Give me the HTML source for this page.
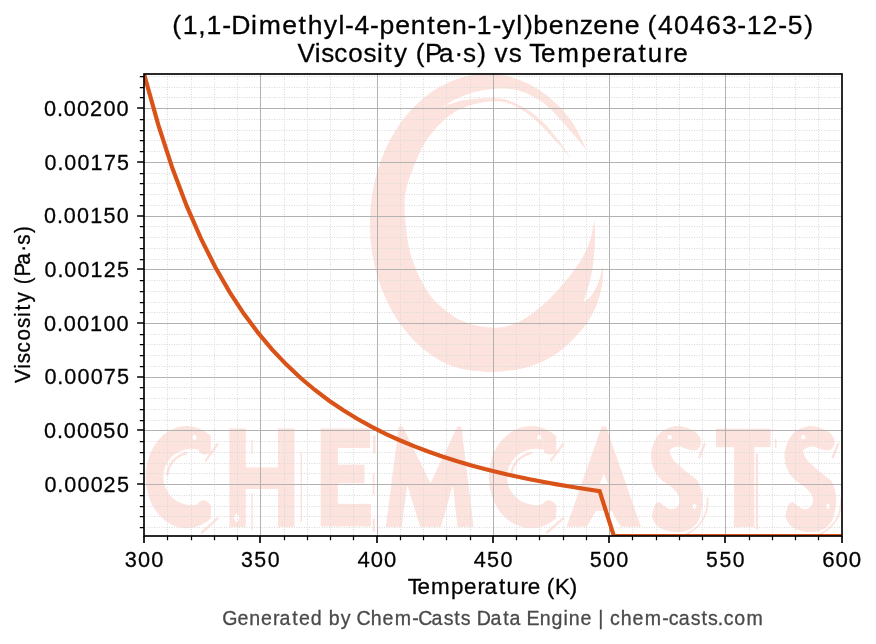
<!DOCTYPE html>
<html><head><meta charset="utf-8"><title>Viscosity vs Temperature</title>
<style>html,body{margin:0;padding:0;background:#fff}svg{display:block}text{font-family:"Liberation Sans",sans-serif}</style></head><body>
<svg width="876" height="644" viewBox="0 0 876 644">
<rect width="876" height="644" fill="#fff"/>
<defs><clipPath id="ax"><rect x="144" y="74" width="698" height="462"/></clipPath></defs>
<g clip-path="url(#ax)" fill="#fde3dd">
<path d="M586.9 151.4 L585.5 148.0 L584.1 144.6 L582.6 141.3 L581.0 138.0 L579.4 134.7 L577.7 131.5 L575.9 128.3 L574.0 125.2 L572.1 122.2 L570.1 119.2 L568.0 116.4 L565.8 113.7 L563.5 111.1 L561.2 108.6 L558.8 106.1 L556.4 103.7 L553.9 101.4 L551.4 99.2 L548.8 97.0 L546.2 95.0 L543.5 93.0 L540.9 91.1 L538.1 89.3 L535.3 87.6 L532.5 86.0 L529.7 84.5 L526.8 83.1 L523.9 81.8 L521.0 80.5 L518.1 79.4 L515.1 78.4 L512.1 77.4 L509.1 76.6 L506.1 75.8 L503.0 75.2 L499.9 74.7 L496.9 74.2 L493.8 73.9 L490.7 73.7 L487.6 73.5 L484.5 73.6 L481.4 73.8 L478.4 74.1 L475.3 74.5 L472.2 75.0 L469.2 75.6 L466.1 76.3 L463.1 77.1 L460.1 78.0 L457.1 79.0 L454.2 80.1 L451.2 81.3 L448.3 82.6 L445.4 83.9 L442.6 85.4 L439.7 86.9 L437.0 88.6 L434.2 90.3 L431.5 92.1 L428.8 94.0 L426.1 96.0 L423.5 98.1 L421.0 100.3 L418.5 102.5 L416.0 104.9 L413.6 107.3 L411.2 109.8 L408.9 112.4 L406.6 115.0 L404.4 117.7 L402.3 120.5 L400.2 123.4 L398.2 126.4 L396.2 129.4 L394.3 132.4 L392.5 135.6 L390.7 138.8 L389.0 142.0 L387.3 145.3 L385.8 148.7 L384.3 152.1 L382.8 155.5 L381.5 159.0 L380.2 162.6 L379.0 166.2 L377.8 169.8 L376.8 173.5 L375.8 177.2 L374.9 180.9 L374.0 184.6 L373.3 188.4 L372.6 192.2 L372.0 196.1 L371.5 199.9 L371.0 203.8 L370.7 207.6 L370.4 211.5 L370.2 215.4 L370.0 219.3 L370.0 223.2 L370.0 227.1 L370.1 231.0 L370.3 234.9 L370.6 238.8 L370.9 242.7 L371.3 246.5 L371.8 250.4 L372.4 254.2 L373.1 258.0 L373.8 261.8 L374.6 265.6 L375.5 269.3 L376.5 273.0 L377.6 276.7 L378.7 280.3 L379.9 283.9 L381.1 287.4 L382.5 290.9 L383.9 294.4 L385.4 297.8 L386.9 301.2 L388.5 304.5 L390.2 307.8 L392.0 310.9 L393.8 314.1 L395.7 317.2 L397.6 320.2 L399.6 323.1 L401.7 326.0 L403.8 328.8 L406.0 331.5 L408.3 334.2 L410.5 336.8 L412.9 339.3 L415.3 341.7 L417.7 344.1 L420.2 346.4 L422.8 348.5 L425.3 350.6 L428.0 352.6 L430.6 354.6 L433.3 356.4 L436.1 358.1 L438.9 359.8 L441.7 361.4 L444.5 362.8 L447.4 364.2 L450.3 365.3 L453.2 366.4 L456.2 367.3 L459.2 368.2 L462.2 368.9 L465.2 369.5 L468.2 370.1 L471.2 370.5 L474.3 370.9 L477.3 371.1 L480.3 371.3 L483.4 371.6 L486.4 371.9 L489.4 372.0 L492.5 372.0 L495.5 371.9 L498.6 371.8 L501.6 371.5 L504.7 371.1 L507.7 370.6 L510.8 370.4 L513.9 370.0 L517.0 369.5 L520.1 368.9 L523.2 368.3 L526.2 367.5 L529.3 366.6 L532.4 365.6 L535.4 364.5 L538.5 363.3 L541.5 362.0 L544.5 360.6 L547.5 359.1 L550.4 357.4 L553.3 355.6 L556.2 353.7 L559.1 351.7 L561.9 349.6 L564.6 347.4 L567.3 345.0 L569.9 342.5 L572.5 339.9 L575.0 337.3 L577.5 334.5 L580.0 331.7 L582.4 328.9 L584.8 325.9 L587.1 322.9 L589.3 319.7 L591.2 316.2 L593.0 312.7 L594.8 309.1 L596.5 305.5 L597.9 301.7 L599.1 297.7 L600.2 293.7 L601.1 289.6 L602.0 285.6 L602.6 281.4 L602.8 277.1 L603.0 272.9 L603.1 268.6 L603.0 264.8 L603.0 264.8 L602.3 267.5 L601.7 270.3 L601.1 273.0 L600.4 275.8 L599.7 278.4 L598.8 281.0 L597.8 283.5 L596.7 286.1 L595.6 288.6 L594.3 290.9 L593.1 293.1 L591.8 295.0 L590.5 296.6 L589.1 297.9 L587.7 298.9 L586.3 299.9 L584.8 300.9 L583.4 302.0 L583.4 302.0 L584.1 299.9 L584.8 298.0 L585.5 296.0 L586.2 293.9 L586.9 291.7 L587.6 289.4 L588.3 286.9 L589.1 284.1 L589.8 281.3 L590.5 278.4 L591.2 275.5 L591.8 272.7 L592.3 269.9 L592.7 267.1 L593.1 264.3 L593.4 261.5 L593.7 258.7 L594.0 255.9 L594.3 253.1 L594.5 250.4 L594.7 247.7 L594.9 244.9 L595.0 242.1 L595.1 239.1 L595.1 236.0 L595.1 232.8 L595.0 229.5 L594.8 226.2 L594.7 222.9 L594.6 219.6 L594.6 219.6 L593.9 222.9 L593.3 226.2 L592.7 229.5 L592.0 232.8 L591.3 236.0 L590.4 239.1 L589.4 242.1 L588.4 244.9 L587.3 247.7 L586.1 250.4 L584.8 253.1 L583.4 255.9 L581.8 258.7 L580.1 261.5 L578.2 264.3 L576.3 267.1 L574.3 269.9 L572.2 272.7 L570.1 275.5 L567.9 278.3 L565.6 281.0 L563.2 283.8 L560.8 286.6 L558.3 289.4 L555.7 292.2 L553.0 295.1 L550.3 298.0 L547.4 300.8 L544.5 303.6 L541.5 306.2 L538.4 308.8 L535.2 311.3 L531.9 313.8 L528.5 316.2 L525.2 318.3 L521.9 320.2 L518.7 321.9 L515.5 323.3 L512.3 324.6 L509.1 325.7 L505.8 326.6 L502.4 327.2 L498.8 327.6 L495.1 327.7 L491.3 327.6 L487.5 327.3 L483.8 326.8 L480.2 326.3 L476.8 325.6 L473.4 324.8 L470.1 323.9 L466.8 322.8 L463.7 321.6 L460.6 320.2 L457.6 318.7 L454.7 316.9 L451.8 315.1 L449.1 313.1 L446.4 311.1 L443.8 309.0 L441.3 306.9 L438.9 304.7 L436.5 302.5 L434.2 300.2 L432.0 297.7 L429.9 295.0 L427.8 292.1 L425.9 289.0 L424.0 285.8 L422.1 282.4 L420.4 279.0 L418.7 275.5 L417.1 272.0 L415.5 268.3 L414.1 264.6 L412.7 260.9 L411.4 257.0 L410.3 253.1 L409.3 249.1 L408.5 245.0 L407.8 240.9 L407.1 236.7 L406.6 232.4 L406.1 228.0 L405.6 223.4 L405.2 218.7 L404.8 213.8 L404.6 209.0 L404.5 204.4 L404.7 200.0 L405.1 196.0 L405.6 192.4 L406.4 188.9 L407.2 185.4 L408.3 181.8 L409.5 178.0 L410.9 173.8 L412.7 169.3 L414.5 164.6 L416.5 160.1 L418.3 155.9 L420.0 152.2 L421.5 149.1 L422.8 146.6 L424.0 144.3 L425.2 142.2 L426.6 140.1 L428.2 137.8 L430.0 135.4 L431.9 132.9 L434.0 130.4 L436.1 128.0 L438.3 125.6 L440.5 123.4 L442.8 121.3 L445.1 119.3 L447.4 117.3 L449.9 115.4 L452.4 113.7 L454.9 112.1 L457.5 110.6 L460.2 109.2 L463.0 108.0 L465.8 106.8 L468.6 105.8 L471.4 104.9 L474.2 104.1 L476.9 103.4 L479.7 102.9 L482.5 102.5 L485.2 102.1 L487.8 101.8 L490.4 101.6 L492.9 101.5 L495.4 101.4 L497.8 101.5 L500.1 101.6 L502.2 101.8 L504.1 102.1 L505.8 102.4 L507.4 102.8 L508.9 103.4 L510.6 104.1 L512.5 104.9 L514.7 105.9 L517.0 107.1 L519.4 108.4 L521.9 109.9 L524.4 111.4 L526.8 113.1 L529.2 114.9 L531.6 116.8 L534.0 118.8 L536.4 121.0 L538.8 123.2 L541.2 125.5 L543.6 127.9 L546.0 130.3 L548.3 132.9 L550.7 135.5 L553.1 138.2 L555.6 140.9 L558.1 143.7 L560.7 146.6 L563.2 149.5 L565.8 152.5 L568.4 155.5 L571.0 158.4 L571.0 158.4 L569.2 155.7 L567.3 152.9 L565.5 150.2 L563.7 147.5 L561.8 144.7 L559.7 141.9 L557.5 139.0 L555.1 135.9 L552.7 132.9 L550.2 129.9 L547.7 127.0 L545.3 124.4 L542.9 122.0 L540.5 119.8 L538.1 117.7 L535.8 115.7 L533.4 113.9 L531.0 112.1 L528.6 110.5 L526.2 108.9 L523.8 107.5 L521.4 106.3 L519.0 105.0 L516.6 103.9 L514.3 102.8 L512.0 101.8 L509.8 100.9 L507.5 100.0 L505.0 99.3 L502.2 98.8 L499.1 98.4 L495.8 98.2 L492.3 98.1 L488.7 98.2 L485.1 98.3 L481.6 98.4 L478.2 98.6 L474.7 98.9 L471.3 99.2 L467.9 99.6 L464.5 100.1 L461.1 100.8 L457.8 101.6 L454.5 102.6 L451.3 103.7 L448.1 104.8 L444.8 105.9 L441.6 107.0 L441.6 107.0 L444.8 105.2 L448.1 103.4 L451.3 101.6 L454.5 99.8 L457.8 98.2 L461.1 96.7 L464.5 95.4 L467.9 94.2 L471.3 93.1 L474.7 92.1 L478.2 91.2 L481.6 90.5 L485.1 89.9 L488.6 89.4 L492.2 89.0 L495.6 88.7 L499.0 88.6 L502.2 88.5 L505.2 88.5 L508.0 88.7 L510.7 88.9 L513.3 89.3 L515.9 89.8 L518.6 90.5 L521.4 91.4 L524.2 92.4 L527.0 93.6 L529.8 94.9 L532.5 96.3 L535.1 97.7 L537.6 99.2 L540.0 100.7 L542.4 102.3 L544.7 104.1 L547.0 106.0 L549.4 108.0 L551.8 110.3 L554.3 112.8 L556.7 115.4 L559.1 118.2 L561.5 120.8 L563.8 123.4 L566.0 125.9 L568.2 128.4 L570.3 130.8 L572.3 133.2 L574.3 135.5 L576.2 137.8 L578.0 140.0 L579.8 142.1 L581.4 144.1 L583.1 146.1 L584.7 148.1 L586.4 150.1Z"/>
<ellipse cx="186.6" cy="477.1" rx="41.0" ry="51.1" fill="#fde3dd"/>
<ellipse cx="191.6" cy="477.0" rx="28.3" ry="28.2" fill="#fff"/>
<path d="M191.6 448.9 L198.0 451.5 L205.0 455.2 L222.0 449.0 L222.0 507.0 L211.0 505.0 L205.0 501.5 L199.6 500.3 L191.6 505.2Z" fill="#fff"/>
<rect x="210.8" y="420.0" width="21.2" height="115.0" fill="#fff"/>
<ellipse cx="203.6" cy="509.5" rx="7.6" ry="9.3" fill="#fde3dd"/>
<ellipse cx="204.3" cy="446.3" rx="6.6" ry="8.4" fill="#fde3dd"/>
<path d="M167.3 474.4 L167.6 472.8 L167.9 471.1 L168.4 469.5 L169.0 467.9 L169.7 466.3 L170.5 464.8 L171.4 463.4 L172.4 462.0 L173.5 460.7 L174.7 459.4 L175.9 458.3 L177.3 457.3 L178.7 456.3 L180.1 455.5 L181.7 454.7 L183.3 454.1 L184.9 453.5 L186.5 453.1" fill="none" stroke="#fde3dd" stroke-width="2.6" stroke-linecap="round"/>
<ellipse cx="194.5" cy="437.4" rx="2.0" ry="2.6" fill="#fff"/>
<path d="M205.9 460.4 L217.5 444.2 M202.0 532.5 L217.5 518.4" fill="none" stroke="#fde3dd" stroke-width="2.4" stroke-linecap="round"/>
<rect x="229.4" y="428.4" width="16.4" height="98.6"/>
<rect x="278.0" y="428.4" width="16.5" height="98.6"/>
<rect x="245.0" y="467.4" width="34.0" height="21.6"/>
<rect x="251.3" y="439.7" width="1.5" height="14.3"/>
<rect x="251.3" y="493.0" width="1.5" height="37.0"/>
<rect x="300.5" y="452.0" width="1.5" height="70.0"/>
<path d="M236.6 512.5 L239.8 517.7 L236.6 523.0 L233.6 517.7Z" fill="#fff"/>
<rect x="320.7" y="428.4" width="17.1" height="98.1"/>
<rect x="337.0" y="428.4" width="33.0" height="19.6"/>
<rect x="337.0" y="464.7" width="27.5" height="18.6"/>
<rect x="337.0" y="503.8" width="34.0" height="22.7"/>
<rect x="373.0" y="435.4" width="2.6" height="18.1"/>
<rect x="372.6" y="474.0" width="2.0" height="20.5"/>
<rect x="372.6" y="518.7" width="2.4" height="12.8"/>
<path d="M385.8 527.0 L398.7 426.5 L402.7 426.5 L430.5 483.3 L457.4 426.5 L461.4 426.5 L473.6 527.0 L457.5 527.0 L452.9 485.2 L440.8 527.0 L420.3 527.0 L407.3 485.2 L401.7 527.0Z"/>
<ellipse cx="531.1" cy="477.1" rx="42.4" ry="51.1" fill="#fde3dd"/>
<ellipse cx="536.3" cy="477.0" rx="29.3" ry="28.2" fill="#fff"/>
<path d="M536.3 448.9 L542.9 451.5 L550.2 455.2 L567.8 449.0 L567.8 507.0 L556.4 505.0 L550.2 501.5 L544.6 500.3 L536.3 505.2Z" fill="#fff"/>
<rect x="556.2" y="420.0" width="21.9" height="115.0" fill="#fff"/>
<ellipse cx="548.7" cy="509.5" rx="7.9" ry="9.3" fill="#fde3dd"/>
<ellipse cx="549.5" cy="446.3" rx="6.8" ry="8.4" fill="#fde3dd"/>
<path d="M511.2 474.4 L511.4 472.8 L511.8 471.1 L512.3 469.5 L512.9 467.9 L513.6 466.3 L514.4 464.8 L515.4 463.4 L516.4 462.0 L517.5 460.7 L518.8 459.4 L520.1 458.3 L521.5 457.3 L522.9 456.3 L524.5 455.5 L526.0 454.7 L527.7 454.1 L529.3 453.5 L531.1 453.1" fill="none" stroke="#fde3dd" stroke-width="2.6" stroke-linecap="round"/>
<ellipse cx="539.3" cy="437.4" rx="2.0" ry="2.6" fill="#fff"/>
<path d="M551.1 460.4 L563.1 444.2 M547.1 532.5 L563.1 518.4" fill="none" stroke="#fde3dd" stroke-width="2.4" stroke-linecap="round"/>
<path d="M566.5 526.8 L601.6 426.5 L606.0 426.5 L641.0 526.8Z"/>
<path d="M586.0 528.0 L596.0 511.0 L611.5 511.0 L621.5 528.0Z" fill="#fff"/>
<path d="M603.8 474.0 L608.0 484.0 L599.6 484.0Z" fill="#fff"/>
<path d="M675.8 426.1 L673.3 426.5 L670.7 427.2 L668.1 428.2 L665.7 429.2 L663.6 430.3 L661.9 431.4 L660.5 432.6 L659.3 434.0 L658.2 435.3 L657.1 436.8 L656.1 438.3 L655.1 440.0 L654.3 441.7 L653.5 443.4 L652.9 445.2 L652.3 447.0 L651.9 448.9 L651.5 450.7 L651.2 452.6 L651.1 454.5 L651.1 456.4 L651.2 458.3 L651.3 460.1 L651.6 462.0 L652.0 463.8 L652.5 465.6 L653.0 467.3 L653.7 469.0 L654.4 470.6 L655.3 472.2 L656.2 473.7 L657.2 475.2 L658.4 476.7 L659.6 478.1 L661.0 479.5 L662.7 480.9 L664.6 482.2 L666.6 483.5 L668.5 484.8 L670.2 486.1 L671.7 487.4 L673.0 488.6 L674.2 489.8 L675.3 491.0 L676.3 492.2 L677.2 493.4 L677.9 494.6 L678.5 495.8 L679.0 497.0 L679.3 498.2 L679.5 499.4 L679.5 500.7 L679.4 502.0 L679.1 503.2 L678.8 504.3 L678.3 505.3 L677.7 506.2 L677.0 507.1 L676.2 507.8 L675.3 508.3 L674.2 508.7 L673.0 508.9 L671.8 509.1 L670.5 509.0 L669.2 508.8 L668.0 508.3 L666.7 507.7 L665.5 506.9 L664.3 506.0 L663.2 505.3 L662.3 504.6 L661.4 503.8 L660.6 503.1 L659.9 502.6 L659.1 502.3 L658.3 502.3 L657.6 502.4 L656.8 502.8 L656.1 503.3 L655.5 504.0 L654.9 505.0 L654.4 506.2 L653.9 507.6 L653.5 509.0 L653.1 510.3 L652.7 511.5 L652.4 512.7 L652.1 513.9 L652.0 515.1 L652.1 516.4 L652.4 517.8 L652.9 519.3 L653.5 520.8 L654.2 522.2 L655.1 523.5 L656.1 524.7 L657.1 525.7 L658.3 526.7 L659.7 527.7 L661.1 528.5 L662.7 529.3 L664.5 530.0 L666.4 530.6 L668.3 531.1 L670.2 531.5 L672.0 531.8 L673.8 532.0 L675.6 532.1 L677.4 532.1 L679.3 532.0 L681.3 531.8 L683.4 531.4 L685.5 531.0 L687.5 530.3 L689.4 529.5 L691.2 528.4 L693.0 527.1 L694.7 525.7 L696.2 524.1 L697.5 522.5 L698.5 520.8 L699.3 518.9 L700.0 516.9 L700.5 515.0 L701.0 513.0 L701.5 511.1 L701.8 509.2 L702.1 507.2 L702.4 505.3 L702.5 503.3 L702.6 501.3 L702.6 499.3 L702.5 497.2 L702.3 495.1 L702.0 493.0 L701.5 490.7 L700.8 488.3 L700.0 485.9 L699.2 483.8 L698.5 482.1 L697.9 481.0 L697.4 480.3 L696.9 479.9 L696.3 479.5 L695.3 478.7 L693.9 477.6 L692.3 476.3 L690.4 474.9 L688.6 473.5 L686.9 472.2 L685.3 470.9 L683.8 469.6 L682.4 468.3 L680.9 467.0 L679.5 465.7 L678.1 464.4 L676.6 463.1 L675.3 461.9 L674.0 460.5 L672.9 459.1 L671.9 457.5 L671.0 455.7 L670.3 453.8 L669.8 452.2 L669.7 450.8 L670.0 449.8 L670.8 449.0 L671.8 448.4 L672.9 447.9 L674.0 447.5 L675.2 447.1 L676.5 446.9 L677.9 446.7 L679.3 446.6 L680.4 446.6 L681.3 446.7 L682.0 447.0 L682.6 447.3 L683.3 447.7 L684.1 448.0 L685.1 448.4 L686.2 448.8 L687.4 449.2 L688.5 449.5 L689.7 449.8 L690.9 450.0 L692.0 450.2 L693.2 450.4 L694.3 450.4 L695.3 450.3 L696.2 450.1 L697.0 449.7 L697.7 449.2 L698.4 448.7 L699.0 448.0 L699.5 447.2 L700.0 446.3 L700.4 445.4 L700.7 444.3 L700.9 443.3 L701.0 442.2 L700.9 441.1 L700.8 440.0 L700.5 438.8 L700.0 437.7 L699.4 436.6 L698.6 435.4 L697.6 434.2 L696.5 433.1 L695.3 432.1 L693.9 431.1 L692.3 430.2 L690.6 429.3 L688.8 428.6 L686.9 427.9 L684.9 427.3 L682.7 426.7 L680.4 426.3 L678.1 426.0Z"/>
<rect x="667.8" y="435.3" width="3.8" height="3.8" fill="#fff"/>
<path d="M694.5 503.2 L697.0 506.3 L694.5 509.4 L692.0 506.3Z" fill="#fff"/>
<path d="M704.6 444.2 L699.3 457.3" fill="none" stroke="#fde3dd" stroke-width="2.4" stroke-linecap="round"/>
<path d="M707.6 497.5 Q709.0 523 686.0 534.5" fill="none" stroke="#fde3dd" stroke-width="1.8"/>
<rect x="716.0" y="428.6" width="54.6" height="18.6"/>
<rect x="733.9" y="446.0" width="20.4" height="81.1"/>
<rect x="755.7" y="453.5" width="2.4" height="75.5"/>
<rect x="774.9" y="438.6" width="1.6" height="9.4"/>
<path d="M809.3 426.1 L806.8 426.5 L804.2 427.2 L801.6 428.2 L799.2 429.2 L797.1 430.3 L795.4 431.4 L794.0 432.6 L792.8 434.0 L791.7 435.3 L790.6 436.8 L789.6 438.3 L788.6 440.0 L787.8 441.7 L787.0 443.4 L786.4 445.2 L785.8 447.0 L785.4 448.9 L785.0 450.7 L784.7 452.6 L784.6 454.5 L784.6 456.4 L784.7 458.3 L784.8 460.1 L785.1 462.0 L785.5 463.8 L786.0 465.6 L786.5 467.3 L787.2 469.0 L787.9 470.6 L788.8 472.2 L789.7 473.7 L790.7 475.2 L791.9 476.7 L793.1 478.1 L794.5 479.5 L796.2 480.9 L798.1 482.2 L800.1 483.5 L802.0 484.8 L803.7 486.1 L805.2 487.4 L806.5 488.6 L807.7 489.8 L808.8 491.0 L809.8 492.2 L810.7 493.4 L811.4 494.6 L812.0 495.8 L812.5 497.0 L812.8 498.2 L813.0 499.4 L813.0 500.7 L812.9 502.0 L812.6 503.2 L812.3 504.3 L811.8 505.3 L811.2 506.2 L810.5 507.1 L809.7 507.8 L808.8 508.3 L807.7 508.7 L806.5 508.9 L805.3 509.1 L804.0 509.0 L802.7 508.8 L801.5 508.3 L800.2 507.7 L799.0 506.9 L797.8 506.0 L796.7 505.3 L795.8 504.6 L794.9 503.8 L794.1 503.1 L793.4 502.6 L792.6 502.3 L791.8 502.3 L791.1 502.4 L790.3 502.8 L789.6 503.3 L789.0 504.0 L788.4 505.0 L787.9 506.2 L787.4 507.6 L787.0 509.0 L786.6 510.3 L786.2 511.5 L785.9 512.7 L785.6 513.9 L785.5 515.1 L785.6 516.4 L785.9 517.8 L786.4 519.3 L787.0 520.8 L787.7 522.2 L788.6 523.5 L789.6 524.7 L790.6 525.7 L791.8 526.7 L793.2 527.7 L794.6 528.5 L796.2 529.3 L798.0 530.0 L799.9 530.6 L801.8 531.1 L803.7 531.5 L805.5 531.8 L807.3 532.0 L809.1 532.1 L810.9 532.1 L812.8 532.0 L814.8 531.8 L816.9 531.4 L819.0 531.0 L821.0 530.3 L822.9 529.5 L824.7 528.4 L826.5 527.1 L828.2 525.7 L829.7 524.1 L831.0 522.5 L832.0 520.8 L832.8 518.9 L833.5 516.9 L834.0 515.0 L834.5 513.0 L835.0 511.1 L835.3 509.2 L835.6 507.2 L835.9 505.3 L836.0 503.3 L836.1 501.3 L836.1 499.3 L836.0 497.2 L835.8 495.1 L835.5 493.0 L835.0 490.7 L834.3 488.3 L833.5 485.9 L832.7 483.8 L832.0 482.1 L831.4 481.0 L830.9 480.3 L830.4 479.9 L829.8 479.5 L828.8 478.7 L827.4 477.6 L825.8 476.3 L823.9 474.9 L822.1 473.5 L820.4 472.2 L818.8 470.9 L817.3 469.6 L815.9 468.3 L814.4 467.0 L813.0 465.7 L811.6 464.4 L810.1 463.1 L808.8 461.9 L807.5 460.5 L806.4 459.1 L805.4 457.5 L804.5 455.7 L803.8 453.8 L803.3 452.2 L803.2 450.8 L803.5 449.8 L804.3 449.0 L805.3 448.4 L806.4 447.9 L807.5 447.5 L808.7 447.1 L810.0 446.9 L811.4 446.7 L812.8 446.6 L813.9 446.6 L814.8 446.7 L815.5 447.0 L816.1 447.3 L816.8 447.7 L817.6 448.0 L818.6 448.4 L819.7 448.8 L820.9 449.2 L822.0 449.5 L823.2 449.8 L824.4 450.0 L825.5 450.2 L826.7 450.4 L827.8 450.4 L828.8 450.3 L829.7 450.1 L830.5 449.7 L831.2 449.2 L831.9 448.7 L832.5 448.0 L833.0 447.2 L833.5 446.3 L833.9 445.4 L834.2 444.3 L834.4 443.3 L834.5 442.2 L834.4 441.1 L834.3 440.0 L834.0 438.8 L833.5 437.7 L832.9 436.6 L832.1 435.4 L831.1 434.2 L830.0 433.1 L828.8 432.1 L827.4 431.1 L825.8 430.2 L824.1 429.3 L822.3 428.6 L820.4 427.9 L818.4 427.3 L816.2 426.7 L813.9 426.3 L811.6 426.0Z"/>
<rect x="801.3" y="435.3" width="3.8" height="3.8" fill="#fff"/>
<path d="M828.0 503.2 L830.5 506.3 L828.0 509.4 L825.5 506.3Z" fill="#fff"/>
<path d="M838.1 444.2 L832.8 457.3" fill="none" stroke="#fde3dd" stroke-width="2.4" stroke-linecap="round"/>
<path d="M841.1 497.5 Q842.5 523 819.5 534.5" fill="none" stroke="#fde3dd" stroke-width="1.8"/>
</g>
<path d="M167.5 74 V536 M191.5 74 V536 M214.5 74 V536 M237.5 74 V536 M284.5 74 V536 M307.5 74 V536 M330.5 74 V536 M353.5 74 V536 M400.5 74 V536 M423.5 74 V536 M446.5 74 V536 M470.5 74 V536 M516.5 74 V536 M539.5 74 V536 M563.5 74 V536 M586.5 74 V536 M632.5 74 V536 M656.5 74 V536 M679.5 74 V536 M702.5 74 V536 M749.5 74 V536 M772.5 74 V536 M795.5 74 V536 M818.5 74 V536 M144 527.5 H842 M144 516.5 H842 M144 506.5 H842 M144 495.5 H842 M144 473.5 H842 M144 463.5 H842 M144 452.5 H842 M144 441.5 H842 M144 420.5 H842 M144 409.5 H842 M144 398.5 H842 M144 387.5 H842 M144 366.5 H842 M144 355.5 H842 M144 344.5 H842 M144 334.5 H842 M144 312.5 H842 M144 302.5 H842 M144 291.5 H842 M144 280.5 H842 M144 259.5 H842 M144 248.5 H842 M144 237.5 H842 M144 226.5 H842 M144 205.5 H842 M144 194.5 H842 M144 183.5 H842 M144 173.5 H842 M144 151.5 H842 M144 140.5 H842 M144 130.5 H842 M144 119.5 H842 M144 97.5 H842 M144 87.5 H842 M144 76.5 H842" stroke="#d9d9d9" stroke-width="1" stroke-dasharray="1 1.5" fill="none"/>
<path d="M260.5 74 V536 M377.5 74 V536 M493.5 74 V536 M609.5 74 V536 M725.5 74 V536 M144 484.5 H842 M144 430.5 H842 M144 377.5 H842 M144 323.5 H842 M144 269.5 H842 M144 216.5 H842 M144 162.5 H842 M144 108.5 H842" stroke="#b2b2b2" stroke-width="1" fill="none"/>
<path clip-path="url(#ax)" d="M144.05 74.00 L158.29 124.90 L172.52 168.53 L186.76 206.13 L201.00 238.69 L215.23 267.03 L229.47 291.79 L243.71 313.52 L257.94 332.66 L272.18 349.60 L286.42 364.63 L300.65 378.02 L314.89 389.98 L329.12 400.70 L343.36 410.35 L357.60 419.04 L371.83 426.90 L386.07 434.03 L400.31 440.50 L414.54 446.40 L428.78 451.79 L443.02 456.71 L457.25 461.23 L471.49 465.38 L485.73 469.20 L499.96 472.73 L514.20 475.99 L528.44 479.00 L542.67 481.80 L556.91 484.39 L571.15 486.81 L585.38 489.05 L599.62 491.15 L613.86 536.00 L628.09 536.00 L642.33 536.00 L656.57 536.00 L670.80 536.00 L685.04 536.00 L699.27 536.00 L713.51 536.00 L727.75 536.00 L741.98 536.00 L756.22 536.00 L770.46 536.00 L784.69 536.00 L798.93 536.00 L813.17 536.00 L827.40 536.00 L841.64 536.00" fill="none" stroke="#d95319" stroke-width="4.17" stroke-linejoin="miter" stroke-linecap="square"/>
<rect x="144" y="74" width="698" height="462" fill="none" stroke="#000" stroke-width="1.67"/>
<path d="M144 536 v6.9 M260 536 v6.9 M377 536 v6.9 M493 536 v6.9 M609 536 v6.9 M725 536 v6.9 M842 536 v6.9 M144 484 h-6.9 M144 430 h-6.9 M144 377 h-6.9 M144 323 h-6.9 M144 269 h-6.9 M144 216 h-6.9 M144 162 h-6.9 M144 108 h-6.9" stroke="#000" stroke-width="1.67" fill="none"/>
<path d="M167.5 536 v4.2 M191.5 536 v4.2 M214.5 536 v4.2 M237.5 536 v4.2 M284.5 536 v4.2 M307.5 536 v4.2 M330.5 536 v4.2 M353.5 536 v4.2 M400.5 536 v4.2 M423.5 536 v4.2 M446.5 536 v4.2 M470.5 536 v4.2 M516.5 536 v4.2 M539.5 536 v4.2 M563.5 536 v4.2 M586.5 536 v4.2 M632.5 536 v4.2 M656.5 536 v4.2 M679.5 536 v4.2 M702.5 536 v4.2 M749.5 536 v4.2 M772.5 536 v4.2 M795.5 536 v4.2 M818.5 536 v4.2 M144 527.5 h-4.2 M144 516.5 h-4.2 M144 506.5 h-4.2 M144 495.5 h-4.2 M144 473.5 h-4.2 M144 463.5 h-4.2 M144 452.5 h-4.2 M144 441.5 h-4.2 M144 420.5 h-4.2 M144 409.5 h-4.2 M144 398.5 h-4.2 M144 387.5 h-4.2 M144 366.5 h-4.2 M144 355.5 h-4.2 M144 344.5 h-4.2 M144 334.5 h-4.2 M144 312.5 h-4.2 M144 302.5 h-4.2 M144 291.5 h-4.2 M144 280.5 h-4.2 M144 259.5 h-4.2 M144 248.5 h-4.2 M144 237.5 h-4.2 M144 226.5 h-4.2 M144 205.5 h-4.2 M144 194.5 h-4.2 M144 183.5 h-4.2 M144 173.5 h-4.2 M144 151.5 h-4.2 M144 140.5 h-4.2 M144 130.5 h-4.2 M144 119.5 h-4.2 M144 97.5 h-4.2 M144 87.5 h-4.2 M144 76.5 h-4.2" stroke="#000" stroke-width="1.25" fill="none"/>
<g opacity="0.999">
<text transform="translate(125.69 567.00) scale(0.9544 1)" x="-1.01 12.89 26.82" y="0" font-size="22.78" fill="#000" stroke="#000" stroke-width="0.30">300</text>
<text transform="translate(241.96 567.00) scale(0.9363 1)" x="-0.91 13.18 27.46" y="0" font-size="22.78" fill="#000" stroke="#000" stroke-width="0.30">350</text>
<text transform="translate(357.94 567.00) scale(0.9671 1)" x="-0.52 13.23 26.98" y="0" font-size="22.78" fill="#000" stroke="#000" stroke-width="0.30">400</text>
<text transform="translate(474.20 567.00) scale(0.9494 1)" x="-0.42 13.51 27.60" y="0" font-size="22.78" fill="#000" stroke="#000" stroke-width="0.30">450</text>
<text transform="translate(590.76 567.00) scale(0.9491 1)" x="-1.12 12.98 26.99" y="0" font-size="22.78" fill="#000" stroke="#000" stroke-width="0.30">500</text>
<text transform="translate(707.03 567.00) scale(0.9309 1)" x="-1.02 13.27 27.64" y="0" font-size="22.78" fill="#000" stroke="#000" stroke-width="0.30">550</text>
<text transform="translate(823.22 567.00) scale(0.9781 1)" x="-1.03 12.56 26.16" y="0" font-size="22.78" fill="#000" stroke="#000" stroke-width="0.30">600</text>
<text transform="translate(45.24 491.89) scale(0.9537 1)" x="-0.81 12.72 19.96 33.81 47.66 61.22 75.27" y="0" font-size="22.63" fill="#000" stroke="#000" stroke-width="0.30">0.00025</text>
<text transform="translate(44.80 438.17) scale(0.9592 1)" x="-0.84 12.63 19.81 33.58 47.35 61.04 74.89" y="0" font-size="22.63" fill="#000" stroke="#000" stroke-width="0.30">0.00050</text>
<text transform="translate(45.24 384.46) scale(0.9559 1)" x="-0.82 12.68 19.90 33.72 47.54 61.31 75.09" y="0" font-size="22.63" fill="#000" stroke="#000" stroke-width="0.30">0.00075</text>
<text transform="translate(44.80 330.75) scale(0.9615 1)" x="-0.85 12.59 19.75 33.48 47.11 60.96 74.69" y="0" font-size="22.63" fill="#000" stroke="#000" stroke-width="0.30">0.00100</text>
<text transform="translate(45.24 277.03) scale(0.9470 1)" x="-0.77 12.83 20.15 34.09 47.93 61.70 75.85" y="0" font-size="22.63" fill="#000" stroke="#000" stroke-width="0.30">0.00125</text>
<text transform="translate(44.80 223.32) scale(0.9527 1)" x="-0.80 12.74 19.99 33.85 47.61 61.50 75.45" y="0" font-size="22.63" fill="#000" stroke="#000" stroke-width="0.30">0.00150</text>
<text transform="translate(45.24 169.60) scale(0.9492 1)" x="-0.78 12.80 20.08 34.00 47.80 61.79 75.66" y="0" font-size="22.63" fill="#000" stroke="#000" stroke-width="0.30">0.00175</text>
<text transform="translate(44.80 115.89) scale(0.9625 1)" x="-0.86 12.57 19.72 33.44 46.88 60.89 74.61" y="0" font-size="22.63" fill="#000" stroke="#000" stroke-width="0.30">0.00200</text>
<text transform="translate(174.60 34.10) scale(1.0121 1)" x="-2.33 7.98 23.34 31.62 47.05 55.98 75.51 83.06 106.37 122.39 131.53 147.43 161.86 168.31 177.73 193.02 202.58 217.97 233.45 249.69 258.64 274.11 289.31 298.60 314.02 323.19 337.62 345.11 354.37 369.75 385.23 400.39 413.71 429.19 444.66 459.54 467.21 477.66 493.42 509.19 524.96 540.76 556.01 565.30 580.87 596.49 605.81 622.22" y="0" font-size="26.26" fill="#000" stroke="#000" stroke-width="0.30">(1,1-Dimethyl-4-penten-1-yl)benzene (40463-12-5)</text>
<text transform="translate(297.80 62.10) scale(0.9930 1)" x="-0.33 17.10 23.69 36.72 50.93 66.12 79.67 87.31 96.86 110.89 118.79 128.02 142.30 157.90 166.47 180.63 189.26 198.18 212.38 225.34 233.04 244.98 261.40 285.41 301.06 317.37 325.92 343.12 352.41 369.06 378.08" y="0" font-size="26.24" fill="#000" stroke="#000" stroke-width="0.30">Viscosity (Pa·s) vs Temperature</text>
<text transform="translate(408.10 594.40) scale(1.0248 1)" x="-0.39 9.27 22.45 41.94 54.59 67.82 74.66 88.66 96.08 109.59 116.82 129.12 135.38 143.38 157.80" y="0" font-size="21.86" fill="#000" stroke="#000" stroke-width="0.30">Temperature (K)</text>
<text transform="translate(30.20 383.20) rotate(-90) scale(0.9449 1)" x="0.11 15.17 21.13 32.60 45.12 58.43 70.19 76.94 85.47 97.50 104.69 112.98 125.48 139.04 146.67 159.00" y="0" font-size="21.87" fill="#000" stroke="#000" stroke-width="0.30">Viscosity (Pa·s)</text>
<text transform="translate(223.60 624.80) scale(0.9948 1)" x="-1.41 13.95 25.75 37.54 49.76 56.16 69.05 75.90 87.56 99.14 105.79 117.80 128.31 133.69 148.03 159.85 172.15 189.62 195.69 209.10 221.20 231.83 238.45 248.16 254.36 268.31 281.20 287.29 299.26 304.60 317.75 329.57 341.61 346.96 358.75 370.00 376.63 382.37 388.42 399.28 411.10 423.39 440.87 447.61 457.55 469.65 480.28 486.90 496.86 502.66 513.30 525.60" y="0" font-size="19.69" fill="#4a4a4a" stroke="#4a4a4a" stroke-width="0.30">Generated by Chem-Casts Data Engine | chem-casts.com</text>
</g>
</svg></body></html>
